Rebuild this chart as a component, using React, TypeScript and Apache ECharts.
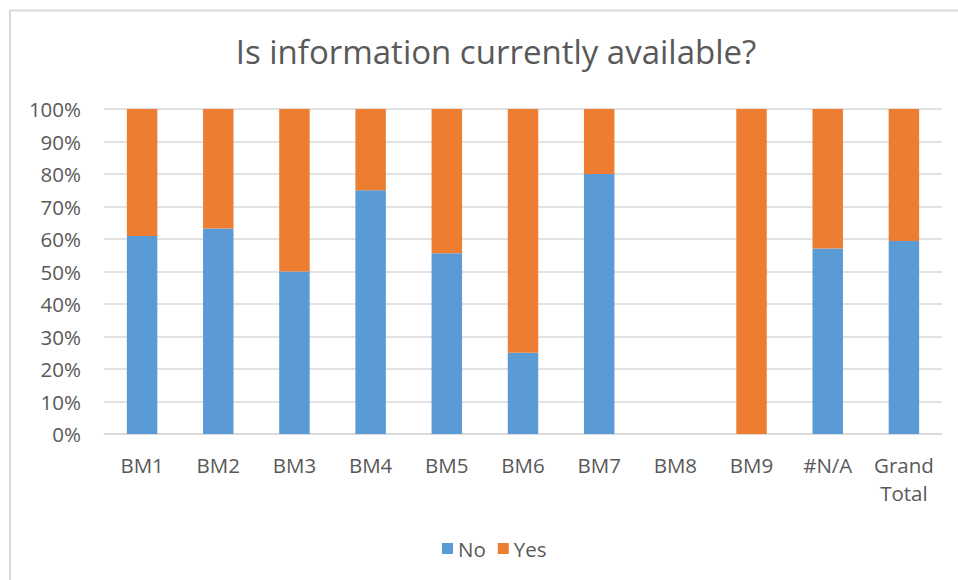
import React, { useEffect, useRef } from "react";
import * as echarts from "echarts";

const categories = ["BM1", "BM2", "BM3", "BM4", "BM5", "BM6", "BM7", "BM8", "BM9", "#N/A", "Grand\nTotal"];
const noValues = [60.9, 63.2, 50, 75, 55.6, 25, 80, 0, 0, 57.1, 59.4];
const yesValues = [39.1, 36.8, 50, 25, 44.4, 75, 20, 0, 100, 42.9, 40.6];
const seriesNames = ["No", "Yes"];
const colors = ["#5B9BD5", "#ED7D31"];

const FONT = "'Open Sans', sans-serif";

export default function App() {
  const ref = useRef<HTMLDivElement>(null);
  useEffect(() => {
    document.body.style.margin = "0";
    const chart = echarts.init(ref.current!, null, { renderer: "svg" });
    chart.setOption({
      animation: false,
      backgroundColor: "#ffffff",
      textStyle: { fontFamily: FONT },
      title: {
        text: "Is information currently available?",
        left: 491,
        top: 30,
        textAlign: "center",
        textStyle: { fontSize: 33, fontWeight: "normal", color: "#595959", fontFamily: FONT },
      },
      graphic: [
        {
          type: "line",
          shape: { x1: 9, y1: 10.5, x2: 958, y2: 10.5 },
          style: { stroke: "#d9d9d9", lineWidth: 2 },
          silent: true,
        },
        {
          type: "line",
          shape: { x1: 10, y1: 10, x2: 10, y2: 580 },
          style: { stroke: "#d9d9d9", lineWidth: 2 },
          silent: true,
        },
      ],
      legend: {
        data: seriesNames,
        top: 533,
        left: 437,
        itemWidth: 11,
        itemHeight: 11,
        itemGap: 12,
        icon: "rect",
        textStyle: { fontSize: 20.5, color: "#595959", fontFamily: FONT },
      },
      grid: { left: 104, right: 16, top: 109, bottom: 146, containLabel: false },
      xAxis: {
        type: "category",
        data: categories,
        axisLine: { lineStyle: { color: "#d9d9d9", width: 1.5 } },
        axisTick: { show: false },
        axisLabel: { color: "#595959", fontSize: 20.5, margin: 17, lineHeight: 28, fontFamily: FONT, interval: 0 },
      },
      yAxis: {
        type: "value",
        min: 0,
        max: 100,
        interval: 10,
        axisLine: { show: false },
        axisTick: { show: false },
        axisLabel: {
          color: "#595959",
          fontSize: 20.5,
          margin: 23,
          fontFamily: FONT,
          formatter: (v: number) => `${v}%`,
        },
        splitLine: { lineStyle: { color: "#d9d9d9", width: 1.5 } },
      },
      series: [
        {
          name: seriesNames[0],
          type: "bar",
          stack: "total",
          data: noValues,
          barWidth: "40%",
          itemStyle: { color: colors[0] },
        },
        {
          name: seriesNames[1],
          type: "bar",
          stack: "total",
          data: yesValues,
          barWidth: "40%",
          itemStyle: { color: colors[1] },
        },
      ],
    });
    return () => chart.dispose();
  }, []);
  return <div ref={ref} style={{ width: 958, height: 580 }} />;
}
